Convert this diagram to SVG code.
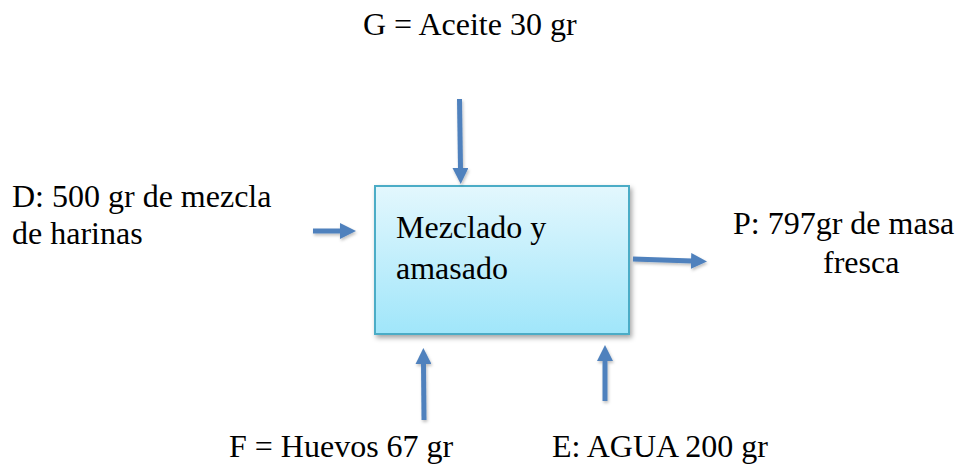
<svg xmlns="http://www.w3.org/2000/svg" width="959" height="465" viewBox="0 0 959 465">
  <style>
    .t { font-family: "Liberation Serif", "Times New Roman", serif; font-size: 32px; fill: #000; }
    .arr { stroke: #4F81BD; stroke-width: 5; fill: none; marker-end: url(#head); }
  </style>
  <defs>
    <linearGradient id="boxg" x1="0" y1="0" x2="0" y2="1">
      <stop offset="0" stop-color="#E3F7FD"/>
      <stop offset="1" stop-color="#A0E6FA"/>
    </linearGradient>
    <filter id="shadow" x="-10%" y="-10%" width="130%" height="130%">
      <feDropShadow dx="2" dy="3" stdDeviation="2.5" flood-color="#000" flood-opacity="0.35"/>
    </filter>
    <filter id="ashadow" filterUnits="userSpaceOnUse" x="0" y="0" width="959" height="465">
      <feDropShadow dx="1" dy="2" stdDeviation="1.5" flood-color="#000" flood-opacity="0.25"/>
    </filter>
    <marker id="head" markerUnits="userSpaceOnUse" viewBox="0 0 16 16" markerWidth="16" markerHeight="16" refX="1" refY="8" orient="auto">
      <path d="M0,0 L16,8 L0,16 z" fill="#4F81BD"/>
    </marker>
  </defs>

  <g id="node-proceso">
    <rect x="375" y="186" width="254" height="148" fill="url(#boxg)" stroke="#4BACC6" stroke-width="2" filter="url(#shadow)"/>
    <text class="t" x="396" y="238">Mezclado y</text>
    <text class="t" x="396" y="279">amasado</text>
  </g>

  <g id="node-G">
    <text class="t" x="363" y="35">G = Aceite 30 gr</text>
  </g>

  <g id="node-D">
    <text class="t" x="12" y="207">D: 500 gr de mezcla</text>
    <text class="t" x="12" y="244">de harinas</text>
  </g>

  <g id="node-P">
    <text class="t" x="733" y="234">P: 797gr de masa</text>
    <text class="t" x="823" y="273">fresca</text>
  </g>

  <g id="node-F">
    <text class="t" x="229" y="457">F = Huevos 67 gr</text>
  </g>

  <g id="node-E">
    <text class="t" x="552" y="457">E: AGUA 200 gr</text>
  </g>

  <g id="connectors" filter="url(#ashadow)">
    <line class="arr" x1="459.5" y1="99" x2="460.5" y2="169"/>
    <line class="arr" x1="313" y1="231" x2="341" y2="231"/>
    <line class="arr" x1="633" y1="259" x2="692" y2="261"/>
    <line class="arr" x1="424" y1="420" x2="423.5" y2="363"/>
    <line class="arr" x1="605" y1="401" x2="605" y2="360"/>
  </g>
</svg>
